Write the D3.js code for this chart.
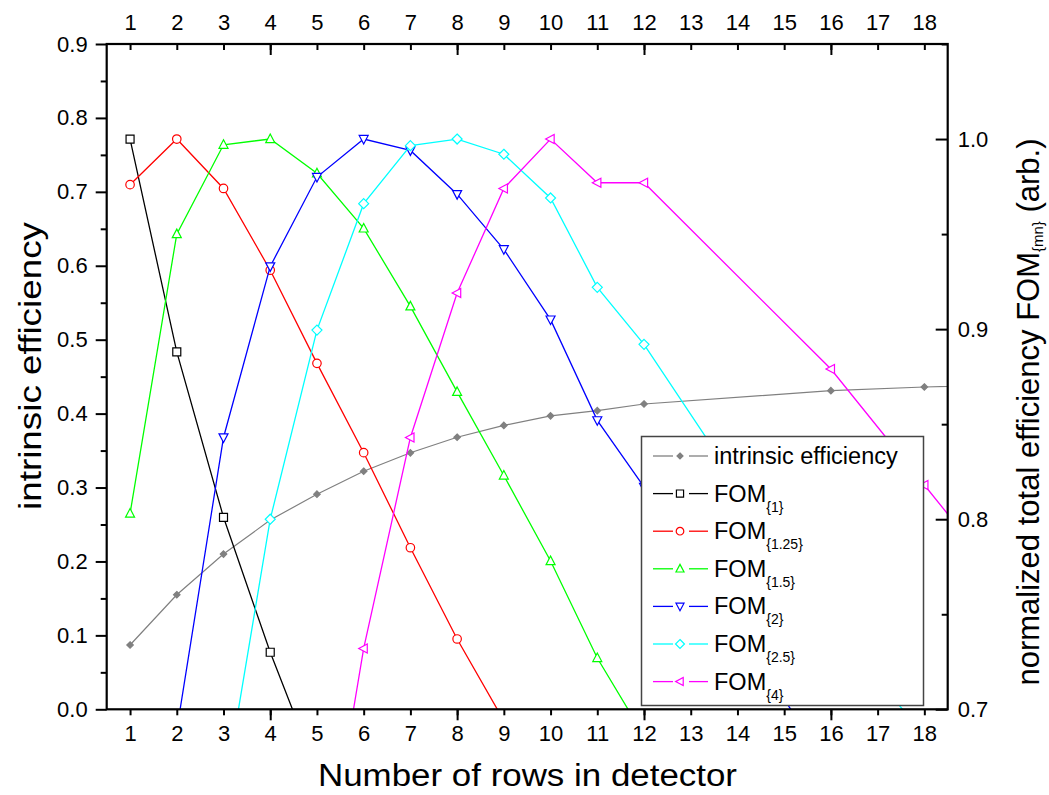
<!DOCTYPE html>
<html><head><meta charset="utf-8">
<script src="https://cdn.jsdelivr.net/npm/d3@7"></script>
<style>
body{margin:0;background:#fff;}
text{font-family:"Liberation Sans",Arial,Helvetica,sans-serif;fill:#000;}
</style>
</head><body>
<svg id="chart" width="1049" height="795"></svg>
<script>
// ---------- data ----------
const rowTicks = [1,2,3,4,5,6,7,8,9,10,11,12,13,14,15,16,17,18];
const rowMajor = [4,8,12,16];
const leftTicks = [0.0,0.1,0.2,0.3,0.4,0.5,0.6,0.7,0.8,0.9];
const leftMinor = [0.05,0.15,0.25,0.35,0.45,0.55,0.65,0.75,0.85];
const rightTicks = [0.7,0.8,0.9,1.0];
const rightMinor = [0.75,0.85,0.95,1.05];

const intrinsicRows = [1,2,3,4,5,6,7,8,9,10,11,12,16,18,20];
const intrinsic = [0.087,0.155,0.210,0.256,0.291,0.322,0.347,0.368,0.384,0.397,0.404,0.413,0.431,0.436,0.439];

const fom1Rows = [1,2,3,4,5];
const fom1 = [1.000,0.888,0.801,0.730,0.667];
const fom125Rows = [1,2,3,4,5,6,7,8,9];
const fom125 = [0.976,1.000,0.974,0.931,0.882,0.835,0.785,0.737,0.694];
const fom15Rows = [1,2,3,4,5,6,7,8,9,10,11,12];
const fom15 = [0.803,0.950,0.997,1.000,0.982,0.953,0.912,0.867,0.823,0.778,0.727,0.686];
const fom2Rows = [2,3,4,5,6,7,8,9,10,11,12,16];
const fom2 = [0.689,0.843,0.933,0.980,1.000,0.994,0.971,0.942,0.905,0.852,0.817,0.668];
const fom25Rows = [3,4,5,6,7,8,9,10,11,12,16,18];
const fom25 = [0.653,0.800,0.8995,0.966,0.9965,1.000,0.992,0.969,0.922,0.892,0.7445,0.6865];
const fom4Rows = [5,6,7,8,9,10,11,12,16,18,20];
const fom4 = [0.585,0.732,0.843,0.919,0.974,1.000,0.977,0.977,0.879,0.818,0.757];

const legendNames = ["intrinsic efficiency","FOM","FOM","FOM","FOM","FOM","FOM"];
const legendSubs = ["","{1}","{1.25}","{1.5}","{2}","{2.5}","{4}"];

// ---------- layout ----------
const L = 106.7, R = 947.7, T = 44, B = 709.3;
const svg = d3.select("#chart");
const x = d3.scaleLinear().domain([0.5,18.5]).range([L,R]);
const yL = d3.scaleLinear().domain([0,0.9]).range([B,T]);
const yR = d3.scaleLinear().domain([0.7,1.05]).range([B,T]);

// ---------- symbols ----------
const sq = {draw(c,s){const h=Math.sqrt(s)/2;c.rect(-h,-h,2*h,2*h);}};
const tri = (dir)=>({draw(c,s){const h=Math.sqrt(s)/2;
  if(dir==="up"){c.moveTo(0,-h*1.1);c.lineTo(h,h*0.8);c.lineTo(-h,h*0.8);}
  else if(dir==="down"){c.moveTo(0,h*1.1);c.lineTo(h,-h*0.8);c.lineTo(-h,-h*0.8);}
  else {c.moveTo(-h*1.1,0);c.lineTo(h*0.8,-h);c.lineTo(h*0.8,h);}
  c.closePath();}});
const dia = {draw(c,s){const h=Math.sqrt(s)/2;c.moveTo(0,-h);c.lineTo(h,0);c.lineTo(0,h);c.lineTo(-h,0);c.closePath();}};
const circ = {draw(c,s){const r=Math.sqrt(s)/2;c.moveTo(r,0);c.arc(0,0,r,0,2*Math.PI);}};

const series = [
  {rows:intrinsicRows, vals:intrinsic, color:"#808080", sym:dia, size:42, fill:"#808080", y:yL, w:1.2},
  {rows:fom1Rows, vals:fom1, color:"#000000", sym:sq, size:64, fill:"#fff", y:yR, w:1.3},
  {rows:fom125Rows, vals:fom125, color:"#ff0000", sym:circ, size:72, fill:"#fff", y:yR, w:1.3},
  {rows:fom15Rows, vals:fom15, color:"#00ff00", sym:tri("up"), size:81, fill:"#fff", y:yR, w:1.3},
  {rows:fom2Rows, vals:fom2, color:"#0000ff", sym:tri("down"), size:81, fill:"#fff", y:yR, w:1.3},
  {rows:fom25Rows, vals:fom25, color:"#00ffff", sym:dia, size:100, fill:"#fff", y:yR, w:1.3},
  {rows:fom4Rows, vals:fom4, color:"#ff00ff", sym:tri("left"), size:81, fill:"#fff", y:yR, w:1.3}
];

svg.append("defs").append("clipPath").attr("id","clip")
  .append("rect").attr("x",L).attr("y",T).attr("width",R-L).attr("height",B-T);

const plot = svg.append("g").attr("clip-path","url(#clip)");
series.forEach(s=>{
  const pts = s.rows.map((r,i)=>[r,s.vals[i]]);
  plot.append("path").datum(pts)
    .attr("d", d3.line().x(d=>x(d[0])).y(d=>s.y(d[1])))
    .attr("fill","none").attr("stroke",s.color).attr("stroke-width",s.w);
  plot.selectAll(null).data(pts).enter().append("path")
    .attr("transform",d=>`translate(${x(d[0])},${s.y(d[1])})`)
    .attr("d", d3.symbol().type(s.sym).size(s.size))
    .attr("fill",s.fill).attr("stroke",s.color).attr("stroke-width",1.2);
});

// ---------- axes ----------
function styleAxis(g){
  g.select(".domain").remove();
  g.selectAll(".tick line").attr("stroke","#000").attr("stroke-width",2);
  g.selectAll(".tick text").style("font-size","22px").attr("fill","#000");
}
const fmt1 = d3.format(".1f");
// bottom
svg.append("g").attr("transform",`translate(0,${B})`)
  .call(d3.axisBottom(x).tickValues(rowTicks).tickSize(6).tickPadding(10).tickFormat(d3.format("d"))).call(styleAxis);
svg.append("g").attr("transform",`translate(0,${B})`)
  .call(d3.axisBottom(x).tickValues(rowMajor).tickSize(11).tickFormat("")).call(styleAxis);
// top
svg.append("g").attr("transform",`translate(0,${T})`)
  .call(d3.axisTop(x).tickValues(rowTicks).tickSize(-6).tickPadding(14).tickFormat(d3.format("d"))).call(styleAxis);
svg.append("g").attr("transform",`translate(0,${T})`)
  .call(d3.axisTop(x).tickValues(rowMajor).tickSize(-11).tickFormat("")).call(styleAxis);
// left
svg.append("g").attr("transform",`translate(${L},0)`)
  .call(d3.axisLeft(yL).tickValues(leftTicks).tickSize(11).tickPadding(8).tickFormat(fmt1)).call(styleAxis);
svg.append("g").attr("transform",`translate(${L},0)`)
  .call(d3.axisLeft(yL).tickValues(leftMinor).tickSize(6).tickFormat("")).call(styleAxis);
// right
svg.append("g").attr("transform",`translate(${R},0)`)
  .call(d3.axisRight(yR).tickValues(rightTicks).tickSize(-12).tickPadding(10).tickFormat(fmt1)).call(styleAxis);
svg.append("g").attr("transform",`translate(${R},0)`)
  .call(d3.axisRight(yR).tickValues(rightMinor).tickSize(-6).tickFormat("")).call(styleAxis);

// frame
svg.append("rect").attr("x",L).attr("y",T).attr("width",R-L).attr("height",B-T)
  .attr("fill","none").attr("stroke","#000").attr("stroke-width",2.2);

// ---------- titles ----------
svg.append("text").attr("x",527.5).attr("y",786).attr("text-anchor","middle")
  .attr("textLength",419).attr("lengthAdjust","spacingAndGlyphs")
  .style("font-size","31px").text("Number of rows in detector");
svg.append("text").attr("transform",`translate(41,${366}) rotate(-90)`).attr("text-anchor","middle")
  .attr("textLength",288).attr("lengthAdjust","spacingAndGlyphs")
  .style("font-size","31px").text("intrinsic efficiency");
const rt = svg.append("text").attr("transform",`translate(1039,${412}) rotate(-90)`).attr("text-anchor","middle")
  .style("font-size","31px");
rt.append("tspan").text("normalized total efficiency FOM");
rt.append("tspan").attr("dy",4).style("font-size","15px").text("{mn}");
rt.append("tspan").attr("dy",-4).text(" (arb.)");

// ---------- legend ----------
const lg = svg.append("g");
lg.append("rect").attr("x",641.5).attr("y",436.5).attr("width",282).attr("height",269)
  .attr("fill","#fff").attr("stroke","#444").attr("stroke-width",1.5);
series.forEach((s,i)=>{
  const cy = 456 + i*37.6;
  lg.append("line").attr("x1",653).attr("x2",673).attr("y1",cy).attr("y2",cy).attr("stroke",s.color).attr("stroke-width",1.3);
  lg.append("line").attr("x1",689).attr("x2",708).attr("y1",cy).attr("y2",cy).attr("stroke",s.color).attr("stroke-width",1.3);
  lg.append("path").attr("transform",`translate(680,${cy})`)
    .attr("d", d3.symbol().type(s.sym).size(i===0?36:s.size*0.8))
    .attr("fill",s.fill).attr("stroke",s.color).attr("stroke-width",1.2);
  const t = lg.append("text").attr("x",714).attr("y",cy+8).style("font-size","23.5px").text(legendNames[i]);
  if(legendSubs[i]) t.append("tspan").attr("dy",10).style("font-size","14px").text(legendSubs[i]);
});
</script>
</body></html>
